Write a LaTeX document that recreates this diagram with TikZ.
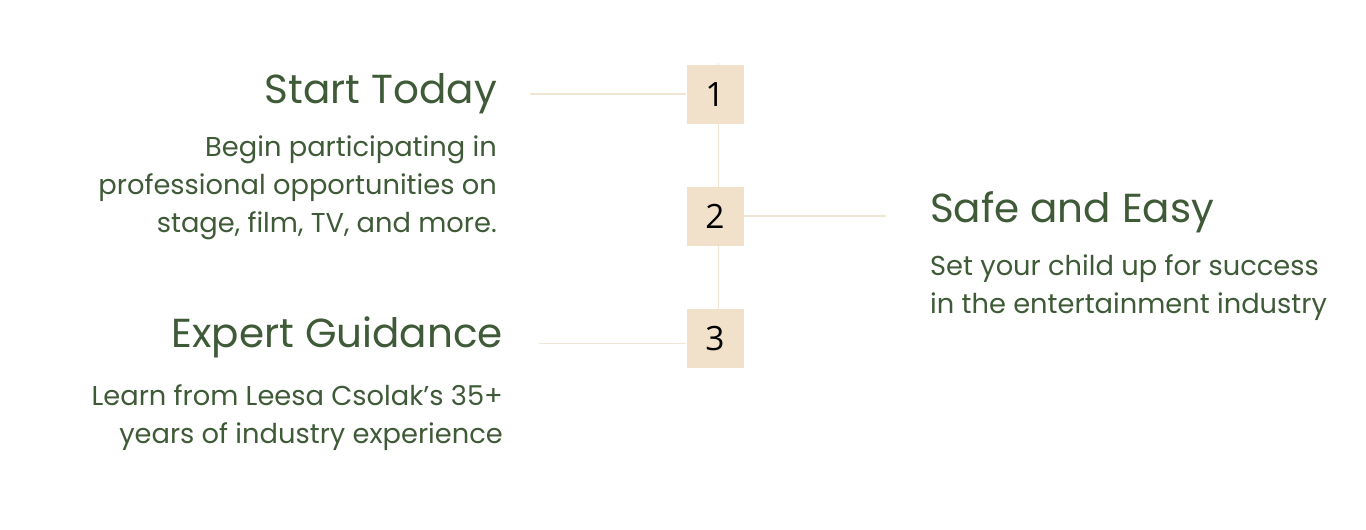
\documentclass[tikz,border=0pt]{standalone}
\usepackage{fontspec}
\setmainfont{Poppins}
\newfontfamily\numfont{Open Sans}
\definecolor{txtgreen}{HTML}{3E5A37}
\definecolor{boxfill}{HTML}{F1E1CB}
\definecolor{linecol}{HTML}{F3E5D3}
\begin{document}
\begin{tikzpicture}[x=1pt,y=-1pt,
  title/.style={inner sep=0pt, text=txtgreen, font=\fontsize{40.5}{40.5}\selectfont},
  body/.style={inner sep=0pt, text=txtgreen, font=\fontsize{27.3}{27.3}\selectfont},
  numbox/.style={fill=boxfill, minimum width=57pt, minimum height=59pt, inner sep=0pt, font=\numfont\fontsize{33.5}{33.5}\selectfont},
  conn/.style={draw=linecol, line width=1.2pt}]
\useasboundingbox (0,0) rectangle (1366,530);
% connector anchors
\coordinate (top) at (718.3,63);
\coordinate (l1) at (530,94);
\coordinate (l2) at (885.7,216);
\coordinate (l3) at (539,343.3);
% boxes (positions)
\path (715,94.7) node[numbox, fill=none, text opacity=0] (b1p) {1};
\path (715,216.8) node[numbox, fill=none, text opacity=0] (b2p) {2};
\path (715,338.7) node[numbox, fill=none, text opacity=0] (b3p) {3};
% connectors
\draw[conn] (top) -- (top |- b3p.north);
\draw[conn] (l1) -- (l1 -| b1p.west);
\draw[conn] (l2) -- (l2 -| b2p.east);
\draw[conn] (l3) -- (l3 -| b3p.west);
% boxes
\node[numbox] (b1) at (b1p) {1};
\node[numbox] (b2) at (b2p) {2};
\node[numbox] (b3) at (b3p) {3};
% texts
\node[title, anchor=base east] (t1) at (497,103.5) {Start Today};
\node[body, anchor=base east] (d1a) at (497,156) {Begin participating in};
\node[body, anchor=base east] (d1b) at (497,194) {professional opportunities on};
\node[body, anchor=base east] (d1c) at (497,232) {stage, film, TV, and more.};
\node[title, anchor=base west] (t2) at (930,222.5) {Safe and Easy};
\node[body, anchor=base west] (d2a) at (930,275) {Set your child up for success};
\node[body, anchor=base west] (d2b) at (930,313) {in the entertainment industry};
\node[title, anchor=base east] (t3) at (503,347.5) {Expert Guidance};
\node[body, anchor=base east] (d3a) at (503,405) {Learn from Leesa Csolak’s 35+};
\node[body, anchor=base east] (d3b) at (503,443) {years of industry experience};
\end{tikzpicture}
\end{document}
